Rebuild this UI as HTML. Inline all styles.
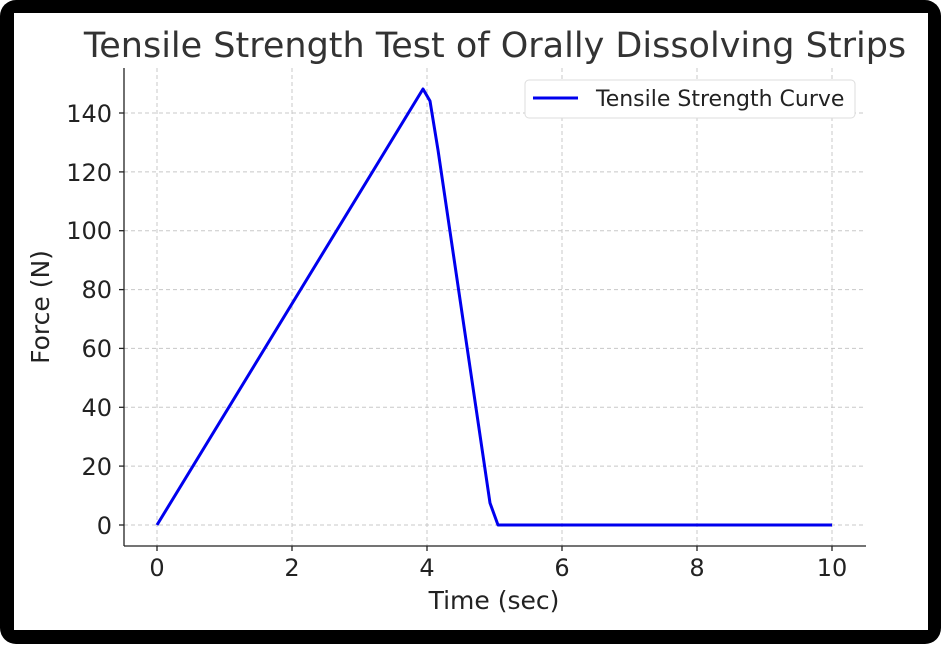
<!DOCTYPE html>
<html><head><style>
body{margin:0;width:941px;height:644px;overflow:hidden;background:#fff}
</style></head><body>
<svg width="941" height="644" xmlns="http://www.w3.org/2000/svg" font-family="DejaVu Sans, Liberation Sans, sans-serif">
<rect x="0" y="0" width="941" height="644" rx="16" fill="#000"/>
<rect x="14" y="13" width="914" height="617" fill="#fff"/>
<g stroke="#c8c8c8" stroke-width="1" stroke-dasharray="4,3">
<line x1="157" y1="68" x2="157" y2="546"/><line x1="292" y1="68" x2="292" y2="546"/>
<line x1="427" y1="68" x2="427" y2="546"/><line x1="562" y1="68" x2="562" y2="546"/>
<line x1="697" y1="68" x2="697" y2="546"/><line x1="832" y1="68" x2="832" y2="546"/>
<line x1="124" y1="525" x2="866" y2="525"/><line x1="124" y1="466.1" x2="866" y2="466.1"/>
<line x1="124" y1="407.3" x2="866" y2="407.3"/><line x1="124" y1="348.4" x2="866" y2="348.4"/>
<line x1="124" y1="289.6" x2="866" y2="289.6"/><line x1="124" y1="230.7" x2="866" y2="230.7"/>
<line x1="124" y1="171.9" x2="866" y2="171.9"/><line x1="124" y1="113" x2="866" y2="113"/>
</g>
<g stroke="#222" stroke-width="1.3">
<line x1="124" y1="68" x2="124" y2="546"/><line x1="124" y1="546" x2="866" y2="546"/>
<line x1="157" y1="546" x2="157" y2="551"/><line x1="292" y1="546" x2="292" y2="551"/>
<line x1="427" y1="546" x2="427" y2="551"/><line x1="562" y1="546" x2="562" y2="551"/>
<line x1="697" y1="546" x2="697" y2="551"/><line x1="832" y1="546" x2="832" y2="551"/>
<line x1="119" y1="525" x2="124" y2="525"/><line x1="119" y1="466.1" x2="124" y2="466.1"/>
<line x1="119" y1="407.3" x2="124" y2="407.3"/><line x1="119" y1="348.4" x2="124" y2="348.4"/>
<line x1="119" y1="289.6" x2="124" y2="289.6"/><line x1="119" y1="230.7" x2="124" y2="230.7"/>
<line x1="119" y1="171.9" x2="124" y2="171.9"/><line x1="119" y1="113" x2="124" y2="113"/>
</g>
<g font-size="24" fill="#222" text-anchor="middle">
<text x="157" y="576">0</text><text x="292" y="576">2</text><text x="427" y="576">4</text>
<text x="562" y="576">6</text><text x="697" y="576">8</text><text x="832" y="576">10</text>
</g>
<g font-size="24" fill="#222" text-anchor="end">
<text x="112" y="534">0</text><text x="112" y="475">20</text><text x="112" y="416">40</text>
<text x="112" y="357">60</text><text x="112" y="298">80</text><text x="112" y="239">100</text>
<text x="112" y="181">120</text><text x="112" y="122">140</text>
</g>
<text x="494" y="609" font-size="25" fill="#222" text-anchor="middle">Time (sec)</text>
<text transform="translate(49,307) rotate(-90)" font-size="25" fill="#222" text-anchor="middle">Force (N)</text>
<text x="495" y="57" font-size="35" fill="#333" text-anchor="middle">Tensile Strength Test of Orally Dissolving Strips</text>
<polyline fill="none" stroke="#0000ee" stroke-width="3" stroke-linejoin="round" points="157,525 423,89 430,101 438,150 490,503 498,525 832,525"/>
<rect x="525" y="80" width="330" height="38" rx="4" fill="#fff" stroke="#ddd"/>
<line x1="533" y1="98" x2="578" y2="98" stroke="#0000ee" stroke-width="3"/>
<text x="596" y="106" font-size="22" fill="#222">Tensile Strength Curve</text>
</svg>
</body></html>
